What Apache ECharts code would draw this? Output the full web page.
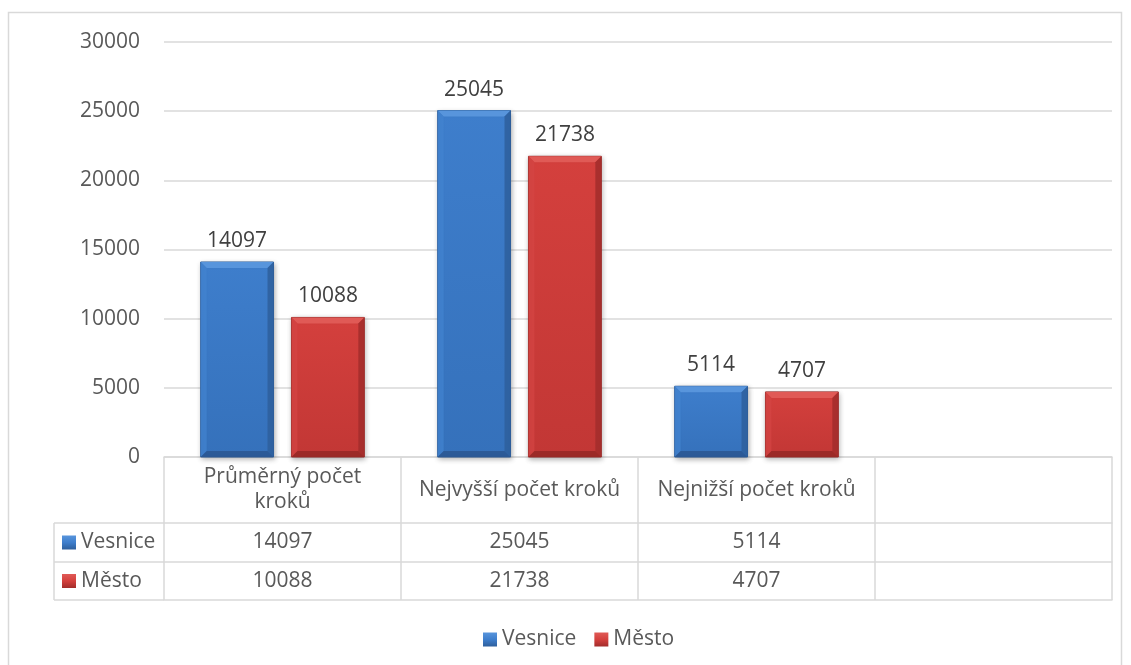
<!DOCTYPE html>
<html>
<head>
<meta charset="utf-8">
<script src="https://cdn.jsdelivr.net/npm/echarts@6/dist/echarts.min.js"></script>
<style>
html,body{margin:0;padding:0;background:#fff;}
#chart{width:1131px;height:665px;}
</style>
</head>
<body>
<div id="chart"></div>
<script>
const categories = ['Průměrný počet\nkroků', 'Nejvyšší počet kroků', 'Nejnižší počet kroků', ''];
const seriesNames = ['Vesnice', 'Město'];
const vesnice = [14097, 25045, 5114, null];
const mesto = [10088, 21738, 4707, null];
const yMin = 0, yMax = 30000, yInterval = 5000;

const FONT = 'Open Sans';
const FS = 21;
const TXT = '#595959';
const LINE = '#d9d9d9';

const palettes = [
  {main: ['#3e7ecc', '#3571bb'], top: '#5895dc', left: '#4384d2', right: '#2e5f9c', bottom: '#2a5690', stroke: '#2e5e99'},
  {main: ['#d4403d', '#c23735'], top: '#e05a56', left: '#d64644', right: '#a22d2b', bottom: '#952826', stroke: '#9a302e'}
];

function iconGrad(p) {
  return new echarts.graphic.LinearGradient(0, 0, 0, 1, [
    {offset: 0, color: p.top}, {offset: 0.5, color: p.main[0]}, {offset: 1, color: p.right}
  ]);
}

function makeRender(si) {
  const p = palettes[si];
  return function (params, api) {
    const idx = api.value(0), val = api.value(1);
    const base = api.coord([idx, 0]);
    const topPt = api.coord([idx, val]);
    const band = api.size([1, 0])[0];
    const bw = band * 73 / 237.5;
    const gap = band * 18 / 237.5;
    const x = si === 0 ? base[0] - gap / 2 - bw : base[0] + gap / 2;
    const y = topPt[1];
    const h = base[1] - topPt[1];
    const b = Math.min(6, h / 2);
    return {
      type: 'group',
      children: [
        {type: 'rect', shape: {x: x, y: y, width: bw, height: h},
          style: {fill: new echarts.graphic.LinearGradient(0, 0, 0, 1, [{offset: 0, color: p.main[0]}, {offset: 1, color: p.main[1]}]),
            stroke: p.stroke, lineWidth: 1, shadowBlur: 5, shadowColor: 'rgba(0,0,0,0.3)', shadowOffsetX: 1, shadowOffsetY: 2},
          textContent: {style: {text: String(val), fontSize: FS, fontFamily: FONT, fill: '#404040'}},
          textConfig: {position: 'top', distance: 10}
        },
        {type: 'polygon', shape: {points: [[x, y], [x + bw, y], [x + bw - b, y + b], [x + b, y + b]]}, style: {fill: p.top}},
        {type: 'polygon', shape: {points: [[x, y], [x + b, y + b], [x + b, y + h - b], [x, y + h]]}, style: {fill: p.left, opacity: 0.7}},
        {type: 'polygon', shape: {points: [[x + bw, y], [x + bw, y + h], [x + bw - b, y + h - b], [x + bw - b, y + b]]}, style: {fill: p.right, opacity: 0.85}},
        {type: 'polygon', shape: {points: [[x, y + h], [x + bw, y + h], [x + bw - b, y + h - b], [x + b, y + h - b]]}, style: {fill: p.bottom, opacity: 0.85}}
      ]
    };
  };
}

const seriesData = [vesnice, mesto];
const series = seriesNames.map((name, si) => ({
  name: name,
  type: 'custom',
  xAxisIndex: 0,
  itemStyle: {color: iconGrad(palettes[si])},
  encode: {x: 0, y: 1},
  data: seriesData[si].map((v, i) => [i, v]).filter(d => d[1] != null),
  renderItem: makeRender(si),
  z: 3
}));

const axisLineStyle = {color: LINE, width: 1.5};
const labelBase = {fontSize: FS, fontFamily: FONT, color: TXT, interval: 0, verticalAlign: 'middle'};

function rowAxis(values, offset, margin) {
  return {
    type: 'category', gridIndex: 0, position: 'bottom', offset: offset,
    data: values.map(v => v == null ? '' : String(v)),
    axisLine: {show: true, lineStyle: axisLineStyle},
    axisTick: {show: false},
    axisLabel: Object.assign({}, labelBase, {margin: margin}),
    splitLine: {show: false}
  };
}

const option = {
  animation: false,
  backgroundColor: '#fff',
  textStyle: {fontFamily: FONT},
  grid: {left: 164, right: 19, top: 42, bottom: 208, containLabel: false},
  legend: {
    data: seriesNames, left: 483, top: 629, itemWidth: 14, itemHeight: 14, itemGap: 18,
    padding: 0, icon: 'rect',
    textStyle: {fontSize: FS, fontFamily: FONT, color: TXT}
  },
  xAxis: [
    {
      type: 'category', gridIndex: 0, position: 'bottom', data: categories,
      axisLine: {show: true, lineStyle: axisLineStyle},
      axisTick: {show: true, interval: 0, length: 143, alignWithLabel: false, lineStyle: axisLineStyle},
      axisLabel: Object.assign({}, labelBase, {margin: 33, lineHeight: 25, align: 'center'}),
      splitLine: {show: false}
    },
    rowAxis(vesnice, 66, 19.5),
    rowAxis(mesto, 105, 19),
    rowAxis([null, null, null, null], 143, 10)
  ],
  yAxis: {
    type: 'value', min: yMin, max: yMax, interval: yInterval,
    axisLine: {show: false}, axisTick: {show: false},
    axisLabel: {fontSize: FS, fontFamily: FONT, color: TXT, margin: 24, formatter: v => String(v)},
    splitLine: {lineStyle: {color: LINE, width: 1.5}}
  },
  graphic: [
    {type: 'rect', shape: {x: 8.5, y: 12.5, width: 1113, height: 700}, style: {fill: 'none', stroke: LINE, lineWidth: 1.5}, silent: true},
    {type: 'line', shape: {x1: 54, y1: 523, x2: 164, y2: 523}, style: {stroke: LINE, lineWidth: 1.5}},
    {type: 'line', shape: {x1: 54, y1: 562, x2: 164, y2: 562}, style: {stroke: LINE, lineWidth: 1.5}},
    {type: 'line', shape: {x1: 54, y1: 600, x2: 164, y2: 600}, style: {stroke: LINE, lineWidth: 1.5}},
    {type: 'line', shape: {x1: 54, y1: 523, x2: 54, y2: 600}, style: {stroke: LINE, lineWidth: 1.5}},
    {type: 'rect', shape: {x: 62, y: 535.5, width: 14, height: 14}, style: {fill: iconGrad(palettes[0])}},
    {type: 'text', x: 81, y: 542.5, style: {text: seriesNames[0], fontSize: FS, fontFamily: FONT, fill: TXT, verticalAlign: 'middle'}},
    {type: 'rect', shape: {x: 62, y: 574, width: 14, height: 14}, style: {fill: iconGrad(palettes[1])}},
    {type: 'text', x: 81, y: 581, style: {text: seriesNames[1], fontSize: FS, fontFamily: FONT, fill: TXT, verticalAlign: 'middle'}}
  ],
  series: series
};

const chart = echarts.init(document.getElementById('chart'), null, {renderer: 'canvas'});
chart.setOption(option);
</script>
</body>
</html>
